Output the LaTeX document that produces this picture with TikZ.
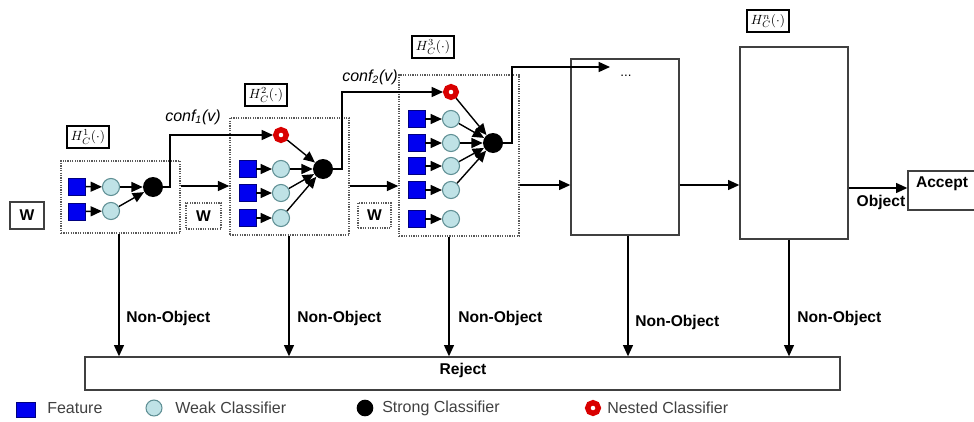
\documentclass[tikz,border=0pt]{standalone}
\usepackage{fontspec}
\setmainfont{Liberation Sans}
\usetikzlibrary{arrows.meta,fit}
\definecolor{wkf}{HTML}{BFE2E6}
\definecolor{wkb}{HTML}{5F8F94}
\definecolor{fb}{HTML}{0000F0}
\begin{document}
\begin{tikzpicture}[x=0.75pt,y=-0.75pt,
 arr/.style={-{Triangle[length=8.5pt,width=7.5pt]}, line width=1.05pt, black},
 dotbox/.style={draw=black!65, line width=1.1pt, dash pattern=on 0.9pt off 0.9pt, inner sep=0pt},
 solbox/.style={draw=black!75, line width=1pt, inner sep=0pt},
 hbox/.style={draw=black, line width=1.6pt, inner sep=0pt, minimum width=32pt, minimum height=16.5pt, font=\fontsize{10}{10}\selectfont},
 feat/.style={draw=blue!50!black, fill=fb, minimum size=12.75pt, inner sep=0pt, line width=0.4pt},
 weak/.style={circle, draw=wkb, fill=wkf, minimum size=12.8pt, inner sep=0pt, line width=0.8pt},
 strong/.style={circle, fill=black, minimum size=15pt, inner sep=0pt},
 nested/.style={circle, draw=red!85!black, line width=4pt, fill=white, minimum size=8pt, inner sep=0pt},
 lbl/.style={font=\bfseries\fontsize{11.7}{12}\selectfont, inner sep=0pt},
 leg/.style={font=\fontsize{12}{12}\selectfont, text=black!75, inner sep=0pt, anchor=west},
 conf/.style={font=\itshape\fontsize{12}{12}\selectfont, inner sep=0pt}
]
\useasboundingbox (0,0) rectangle (974,421);

% stage boxes
\node[dotbox, fit={(61,161) (180,233)}] (s1) {};
\node[dotbox, fit={(230,118) (349,235)}] (s2) {};
\node[dotbox, fit={(399,75) (519,236)}] (s3) {};
\node[solbox, fit={(571,59) (679,235)}] (s4) {};
\node[solbox, fit={(740,47) (848,239)}] (s5) {};
\node[solbox, fit={(85,357) (840,390)}] (rej) {};
\node[lbl] (rejt) at (463,370) {Reject};
\node[solbox, fit={(908,171) (990,210)}] (acc) {};
\node[lbl] (acct) at (942,184) {Accept};

% H labels
\node[hbox] (h1) at (88,137) {$H_C^1(\cdot)$};
\node[hbox] (h2) at (266,95) {$H_C^2(\cdot)$};
\node[hbox] (h3) at (433,47) {$H_C^3(\cdot)$};
\node[hbox] (hn) at (768,21) {$H_C^n(\cdot)$};

% W boxes
\node[solbox, line width=1.3pt, fit={(10,202) (44,229)}] (wa) {};
\node[dotbox, fit={(186,203) (221,229)}] (wb) {};
\node[dotbox, fit={(358,203) (391,228)}] (wc) {};
\node[lbl] (wat) at (wa) {W};
\node[lbl] (wbt) at (wb) {W};
\node[lbl] (wct) at (wc) {W};

% stage 1
\node[feat] (f11) at (77,186.5) {};
\node[feat] (f12) at (77,211.5) {};
\node[weak] (w11) at (111,187) {};
\node[weak] (w12) at (111,211) {};
\node[strong] (st1) at (153,187) {};
\draw[arr] (f11) -- (w11);
\draw[arr] (f12) -- (w12);
\draw[arr] (w11) -- (st1);
\draw[arr] (w12) -- (st1);

% stage 2
\node[nested] (n2) at (281,135) {};
\foreach \i/\y in {1/169,2/193,3/218}{
  \node[feat] (f2\i) at (247.5,\y) {};
  \node[weak] (w2\i) at (281,\y) {};
  \draw[arr] (f2\i) -- (w2\i);
}
\node[strong] (st2) at (323,169) {};
\foreach \i in {1,2,3} \draw[arr] (w2\i) -- (st2);
\draw[arr] (n2) -- (st2);

% stage 3
\node[nested] (n3) at (451,92) {};
\foreach \i/\y in {1/119,2/143,3/166,4/190,5/219}{
  \node[feat] (f3\i) at (416.5,\y) {};
  \node[weak] (w3\i) at (451,\y) {};
  \draw[arr] (f3\i) -- (w3\i);
}
\node[strong] (st3) at (493,143) {};
\foreach \i in {1,2,3,4} \draw[arr] (w3\i) -- (st3);
\draw[arr] (n3) -- (st3);

% confidence pass-through
\coordinate (c1) at (170,135);
\coordinate (c2) at (342,92);
\coordinate (c3) at (512,67);
\coordinate (e3) at (610,67);
\draw[arr] (st1.east) -| (c1) -- (n2);
\draw[arr] (st2.east) -| (c2) -- (n3);
\draw[arr] (st3.east) -| (c3) -- (e3);
\node[conf] (cf1) at (193,117) {conf\textsubscript{1}(v)};
\node[conf] (cf2) at (370,77) {conf\textsubscript{2}(v)};
\node[inner sep=0pt, font=\fontsize{10}{10}\selectfont] (dots) at (626,76) {...};

% stage to stage
\coordinate (ya) at (0,186);
\coordinate (yb) at (0,185);
\coordinate (yc) at (0,188);
\draw[arr] (s1.east |- ya) -- (s2.west |- ya);
\draw[arr] (s2.east |- ya) -- (s3.west |- ya);
\draw[arr] (s3.east |- yb) -- (s4.west |- yb);
\draw[arr] (s4.east |- yb) -- (s5.west |- yb);
\draw[arr] (s5.east |- yc) -- (acc.west |- yc);
\node[lbl] (obj) at (881,202) {Object};

% rejections
\coordinate (x1) at (119,0);
\coordinate (x2) at (289,0);
\coordinate (x3) at (449,0);
\coordinate (x4) at (628,0);
\coordinate (x5) at (789,0);
\draw[arr] (s1.south -| x1) -- (rej.north -| x1);
\draw[arr] (s2.south -| x2) -- (rej.north -| x2);
\draw[arr] (s3.south -| x3) -- (rej.north -| x3);
\draw[arr] (s4.south -| x4) -- (rej.north -| x4);
\draw[arr] (s5.south -| x5) -- (rej.north -| x5);
\node[lbl, anchor=west] (no1) at (126,318) {Non-Object};
\node[lbl, anchor=west] (no2) at (297,318) {Non-Object};
\node[lbl, anchor=west] (no3) at (458,318) {Non-Object};
\node[lbl, anchor=west] (no4) at (635,322) {Non-Object};
\node[lbl, anchor=west] (no5) at (797,318) {Non-Object};

% legend
\node[feat, minimum width=14pt, minimum height=11.5pt] (lf) at (25.5,409.5) {};
\node[leg] (lft) at (47,408) {Feature};
\node[weak, minimum size=12pt] (lw) at (154,408) {};
\node[leg] (lwt) at (175,408) {Weak Classifier};
\node[strong, minimum size=12.5pt] (ls) at (365,408) {};
\node[leg] (lst) at (382,408) {Strong Classifier};
\node[nested] (ln) at (593,408) {};
\node[leg] (lnt) at (607,408) {Nested Classifier};
\end{tikzpicture}
\end{document}
